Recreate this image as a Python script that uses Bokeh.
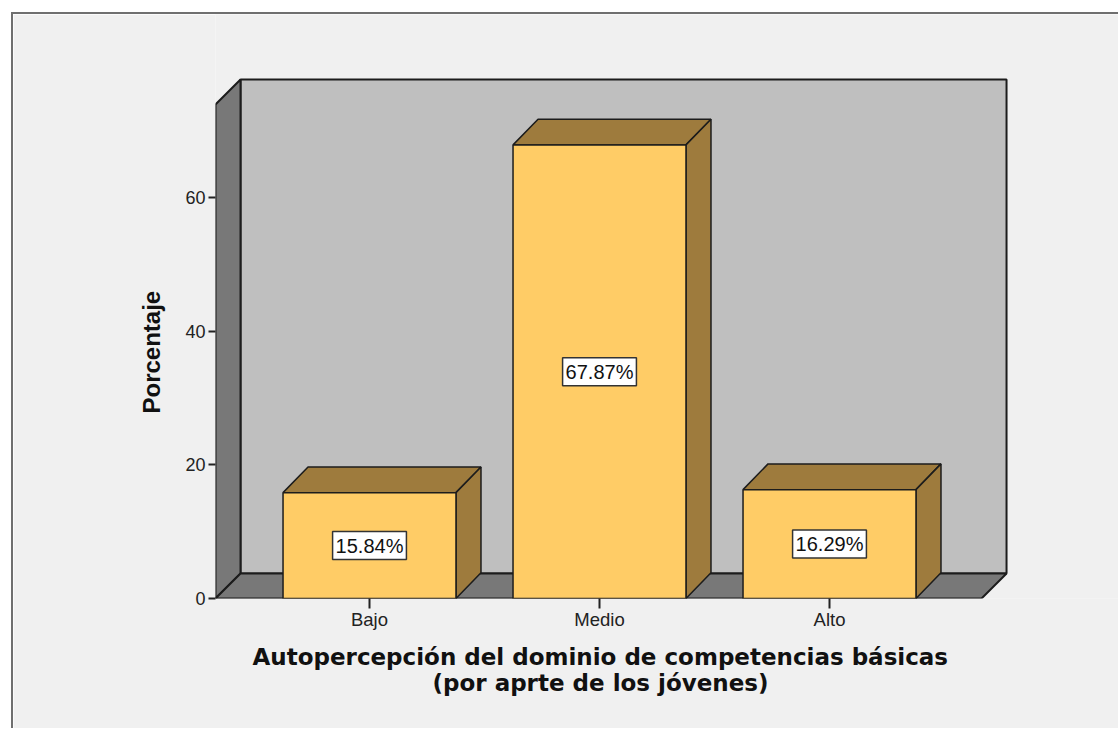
from bokeh.plotting import figure
from bokeh.embed import file_html
from bokeh.resources import INLINE
from bokeh.models import FixedTicker, ColumnDataSource, Title
from bokeh.core.properties import value

categories = ["Bajo", "Medio", "Alto"]
percentages = [15.84, 67.87, 16.29]
y_ticks = [0, 20, 40, 60]
x_title_lines = ["Autopercepción del dominio de competencias básicas", "(por aprte de los jóvenes)"]
y_title = "Porcentaje"

BG = "#f0f0f0"
WALL = "#bfbfbf"
SIDE = "#787878"
BAR = "#ffcc66"
BAR_DARK = "#9e7b3d"
EDGE = "#1c1c1c"

positions = list(range(len(categories)))
bar_w = 0.752
dx = 25 / 230
dy = 3.74
bar_dy = 3.85
x0 = -0.6696
x1 = 2.661
top = 73.92

p = figure(width=1107, height=716, output_backend="svg", toolbar_location=None,
           x_range=(x0, 3.2652), y_range=(0, 87.38),
           min_border_left=202, min_border_right=0, min_border_top=0, min_border_bottom=132,
           background_fill_color=BG, border_fill_color=BG, outline_line_color=None,
           margin=(12, 0, 0, 11))
p.styles = {"border-top": "2px solid #6f6f6f", "border-left": "2px solid #6f6f6f"}
p.grid.visible = False

# Box walls
p.patch([x0 + dx, x1 + dx, x1 + dx, x0 + dx], [dy, dy, top + dy, top + dy],
        fill_color=WALL, line_color=EDGE, line_width=2)
p.patch([x0, x0 + dx, x0 + dx, x0], [0, dy, top + dy, top],
        fill_color=SIDE, line_color=EDGE, line_width=2)
p.patch([x0, x1, x1 + dx, x0 + dx], [0, 0, dy, dy],
        fill_color=SIDE, line_color=EDGE, line_width=2)

# Bars
lefts = [c - bar_w / 2 for c in positions]
rights = [c + bar_w / 2 for c in positions]
p.patches([[l, l + dx, r + dx, r] for l, r in zip(lefts, rights)],
          [[v, v + bar_dy, v + bar_dy, v] for v in percentages],
          fill_color=BAR_DARK, line_color=EDGE, line_width=1.5)
p.patches([[r, r + dx, r + dx, r] for r in rights],
          [[0, bar_dy, v + bar_dy, v] for v in percentages],
          fill_color=BAR_DARK, line_color=EDGE, line_width=1.5)
p.quad(left=lefts, right=rights, bottom=0, top=percentages,
       fill_color=BAR, line_color=EDGE, line_width=1.5)

# Value labels
src = ColumnDataSource(dict(x=positions, y=[v / 2 for v in percentages],
                            t=[f"{v:.2f}%" for v in percentages]))
p.text(x="x", y="y", text="t", source=src, text_align="center", text_baseline="middle",
       text_font=value("Liberation Sans"), text_font_size="20px", text_color="#111111",
       background_fill_color="white", border_line_color="#333333", border_line_width=1.5,
       padding=3)

# Axes
p.yaxis.ticker = FixedTicker(ticks=y_ticks)
p.yaxis.minor_tick_line_color = None
p.yaxis.axis_line_color = None
p.yaxis.major_tick_in = 0
p.yaxis.major_tick_out = 7
p.yaxis.major_tick_line_color = "#222222"
p.yaxis.major_tick_line_width = 2
p.yaxis.major_label_text_font = "Liberation Sans"
p.yaxis.major_label_text_font_size = "18px"
p.yaxis.major_label_text_color = "#222222"
p.yaxis.major_label_standoff = 3

p.xaxis.ticker = FixedTicker(ticks=positions)
p.xaxis.major_label_overrides = {i: c for i, c in zip(positions, categories)}
p.xaxis.minor_tick_line_color = None
p.xaxis.axis_line_color = None
p.xaxis.major_tick_in = 0
p.xaxis.major_tick_out = 10
p.xaxis.major_tick_line_color = "#222222"
p.xaxis.major_tick_line_width = 2
p.xaxis.major_label_text_font = "Liberation Sans"
p.xaxis.major_label_text_font_size = "18.5px"
p.xaxis.major_label_text_color = "#222222"
p.xaxis.major_label_standoff = 0

# Titles, placed off-centre as in the reference
t1 = Title(text=x_title_lines[0], align="left", offset=37, standoff=19,
           text_font="DejaVu Sans", text_font_style="bold", text_font_size="23px", text_color="#111111")
t2 = Title(text=x_title_lines[1], align="left", offset=217, standoff=-24,
           text_font="DejaVu Sans", text_font_style="bold", text_font_size="23px", text_color="#111111")
p.add_layout(t1, "below")
p.add_layout(t2, "below")
ty = Title(text=y_title, align="left", offset=185, standoff=35,
           text_font="Liberation Sans", text_font_style="bold", text_font_size="24px", text_color="#111111")
p.add_layout(ty, "left")

open("out.html", "w").write(file_html(p, INLINE))
